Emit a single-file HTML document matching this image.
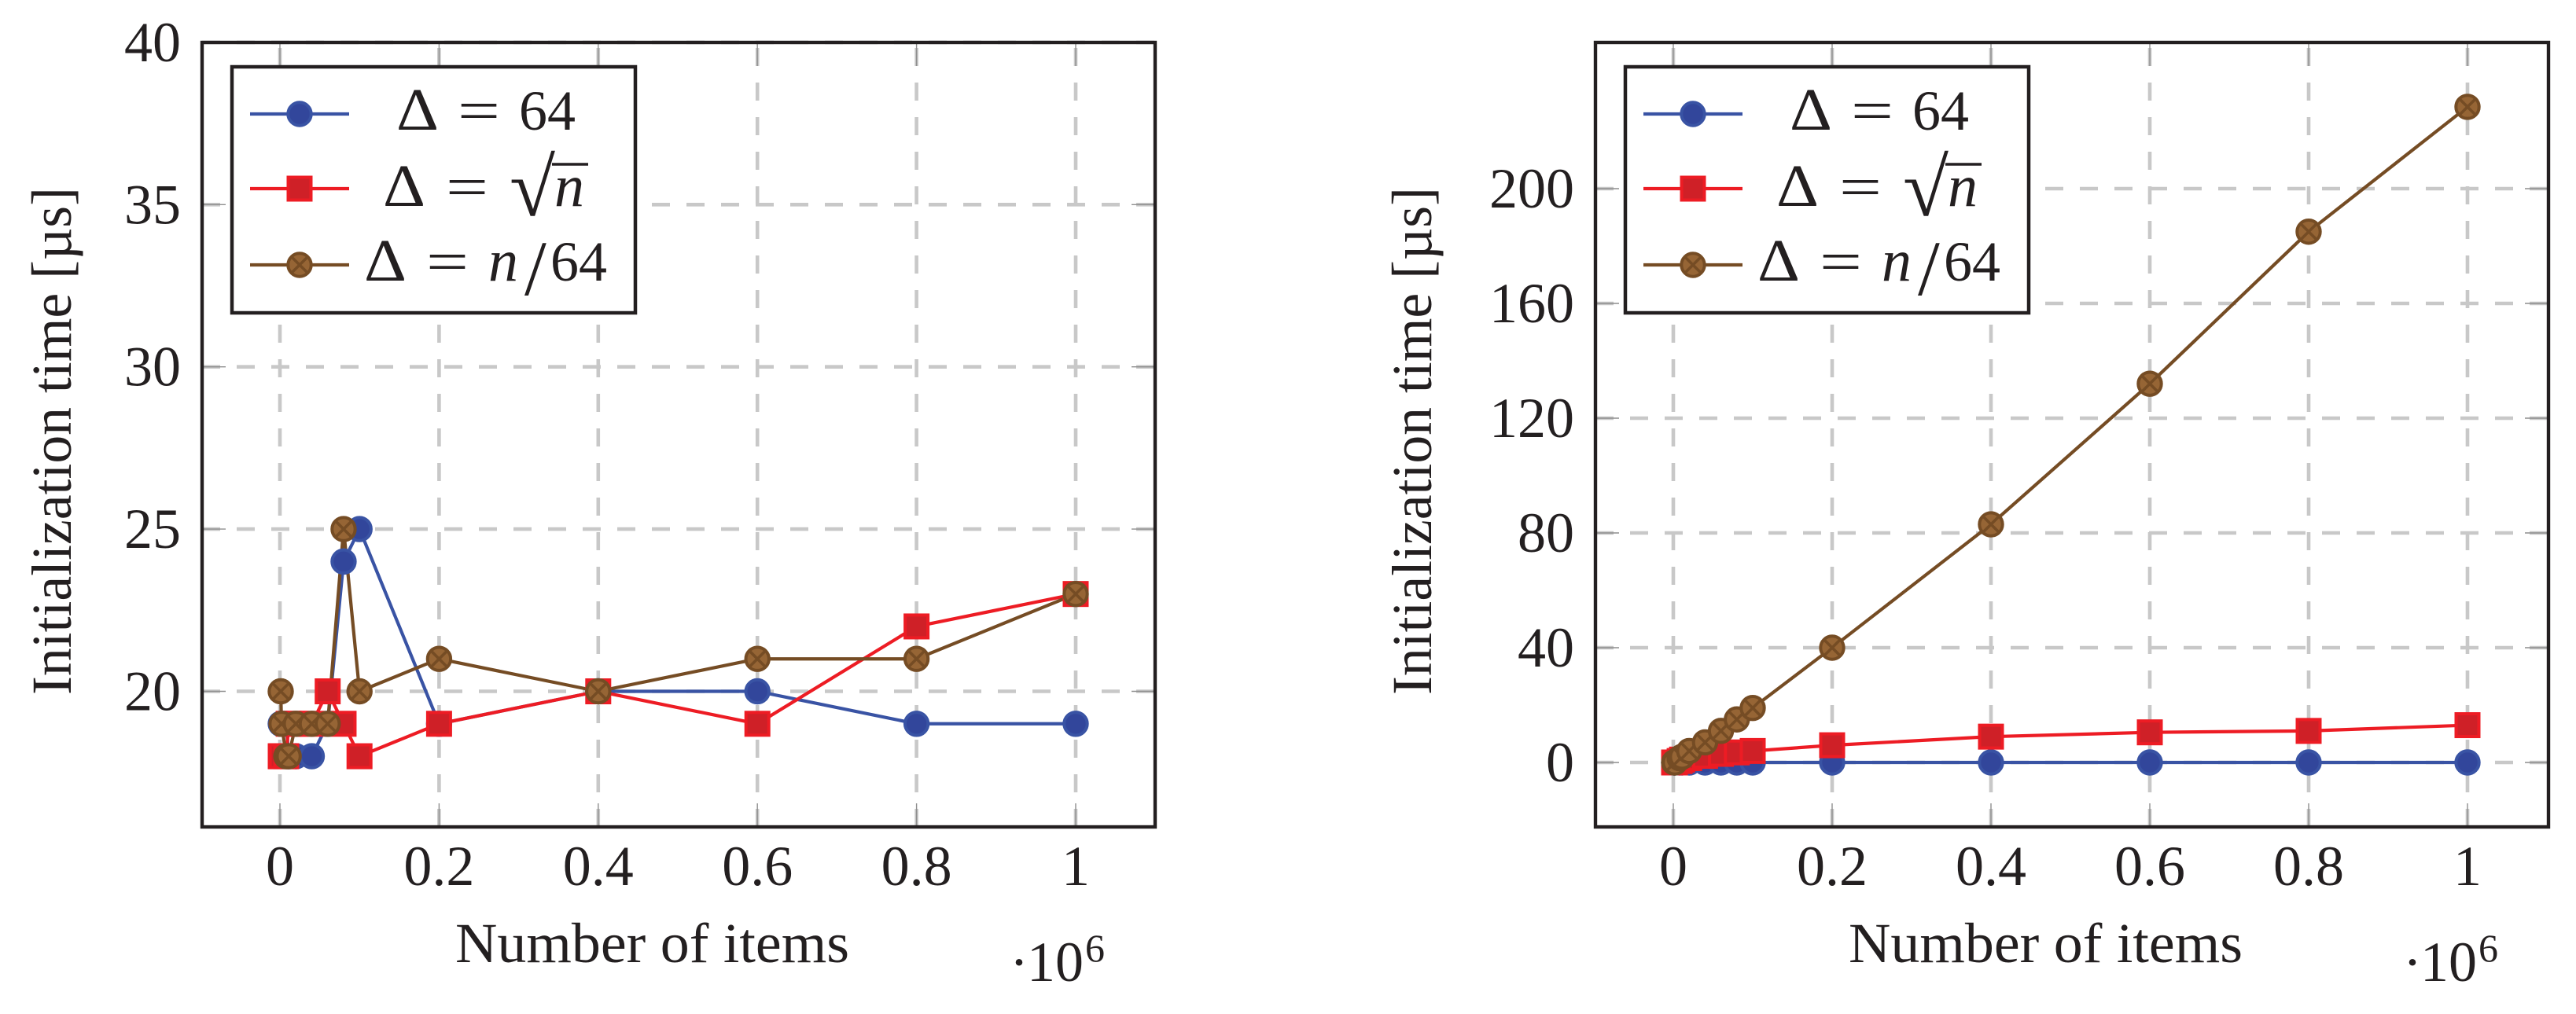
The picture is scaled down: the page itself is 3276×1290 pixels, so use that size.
<!DOCTYPE html>
<html lang="en">
<head>
<meta charset="utf-8">
<title>Initialization time charts</title>
<style>
html,body{margin:0;padding:0;background:#fff;width:3276px;height:1290px;overflow:hidden}
svg{display:block}
text{font-family:"Liberation Serif",serif;fill:#231f20}
.i{font-style:italic}
</style>
</head>
<body>
<svg id="figure" xmlns="http://www.w3.org/2000/svg" width="3276" height="1290" viewBox="0 0 3276 1290">
<rect width="3276" height="1290" fill="#fff"/>
<g id="left-chart"></g>
<g id="right-chart"></g>
</svg>
<script>
// Shared data (x in units of 10^6 items)
const itemCounts = [0.001, 0.002, 0.008, 0.011, 0.02, 0.04, 0.06, 0.08, 0.1, 0.2, 0.4, 0.6, 0.8, 1];
const xTickValues = [0, 0.2, 0.4, 0.6, 0.8, 1];
const xTickLabels = ['0', '0.2', '0.4', '0.6', '0.8', '1'];

// Left chart values
const leftBlue = [19, 19, 19, 18, 18, 18, 19, 24, 25, 19, 20, 20, 19, 19];
const leftRed = [18, 18, 18, 19, 19, 19, 20, 19, 18, 19, 20, 19, 22, 23];
const leftBrown = [20, 19, 18, 18, 19, 19, 19, 25, 20, 21, 20, 21, 21, 23];
const leftYTicks = [20, 25, 30, 35, 40];

// Right chart values
const rightBlue = [0, 0, 0, 0, 0, 0, 0, 0, 0, 0, 0, 0, 0, 0];
const rightRed = [0, 0, 0.5, 1, 1.5, 2.3, 3, 3.5, 4, 6, 9, 10.5, 11, 13];
const rightBrown = [0, 0, 1.5, 2, 4, 7, 11, 15, 19, 40, 83, 132, 185, 228.5];
const rightYTicks = [0, 40, 80, 120, 160, 200];

const NS = 'http://www.w3.org/2000/svg';
const BLUE = {line: '#3953a4', fill: '#32469b'};
const RED = {line: '#ed1c24', fill: '#cf2027'};
const BROWN = {line: '#754c24', fill: '#966535'};

function mk(parent, tag, attrs, content) {
  const el = document.createElementNS(NS, tag);
  for (const k in attrs) el.setAttribute(k, attrs[k]);
  if (content !== undefined) el.textContent = content;
  parent.appendChild(el);
  return el;
}

function drawMarker(g, kind, cx, cy, col) {
  if (kind === 'square') {
    const m = mk(g, 'rect', {x: cx - 14.5, y: cy - 14.5, width: 29, height: 29, fill: col.fill, stroke: col.line, 'stroke-width': 4});
    
    
    return;
  }
  const c = mk(g, 'circle', {cx: cx, cy: cy, r: 14.7, fill: col.fill, stroke: col.line, 'stroke-width': 4});
  
  
  if (kind === 'cross') {
    const d = 10.4;
    const x = mk(g, 'path', {d: `M${cx-d} ${cy-d}L${cx+d} ${cy+d}M${cx-d} ${cy+d}L${cx+d} ${cy-d}`, fill: 'none', stroke: col.line, 'stroke-width': 3.6});
    
    
  }
}

function drawChart(root, frame, xAxis, yAxis, yTicks, series, labelX) {
  const sx = v => xAxis.a + xAxis.b * v;
  const sy = v => yAxis.a - yAxis.b * (v - yAxis.base);

  // grid
  const grid = mk(root, 'g', {});
  
  
  xTickValues.forEach(v => {
    const l = mk(grid, 'line', {x1: sx(v), x2: sx(v), y1: frame.b, y2: frame.t, stroke: '#c8c8c8', 'stroke-width': 4.6, 'stroke-dasharray': '23 21'});
    
    
  });
  yTicks.forEach(v => {
    const l = mk(grid, 'line', {x1: frame.l, x2: frame.r, y1: sy(v), y2: sy(v), stroke: '#c8c8c8', 'stroke-width': 4.6, 'stroke-dasharray': '23 21'});
    
    
  });

  // tick marks
  const ticks = mk(root, 'g', {stroke: '#8e8e8e', 'stroke-width': 1.4});
  
  
  xTickValues.forEach(v => {
    mk(ticks, 'line', {x1: sx(v), x2: sx(v), y1: frame.b, y2: frame.b - 30});
    mk(ticks, 'line', {x1: sx(v), x2: sx(v), y1: frame.t, y2: frame.t + 30});
  });
  yTicks.forEach(v => {
    mk(ticks, 'line', {x1: frame.l, x2: frame.l + 30, y1: sy(v), y2: sy(v)});
    mk(ticks, 'line', {x1: frame.r, x2: frame.r - 30, y1: sy(v), y2: sy(v)});
  });

  // series lines
  series.forEach(s => {
    const pts = itemCounts.map((x, i) => sx(x) + ',' + sy(s.values[i])).join(' ');
    const p = mk(root, 'polyline', {points: pts, fill: 'none', stroke: s.col.line, 'stroke-width': 4.2, 'stroke-linejoin': 'round'});
    
    
  });
  // series markers
  series.forEach(s => {
    const g = mk(root, 'g', {});
    
    
    itemCounts.forEach((x, i) => drawMarker(g, s.kind, sx(x), sy(s.values[i]), s.col));
  });

  // frame
  const f = mk(root, 'rect', {x: frame.l, y: frame.t, width: frame.r - frame.l, height: frame.b - frame.t, fill: 'none', stroke: '#231f20', 'stroke-width': 4.4});
  
  

  // tick labels
  xTickValues.forEach((v, i) => {
    const t = mk(root, 'text', {x: sx(v), y: 1126, 'font-size': 72, 'text-anchor': 'middle'}, xTickLabels[i]);
    
    
  });
  yTicks.forEach(v => {
    const t = mk(root, 'text', {x: frame.l - 27, y: sy(v) + 24, 'font-size': 72, 'text-anchor': 'end'}, String(v));
    
    
  });

  // axis titles
  const xt = mk(root, 'text', {x: frame.l + 322, y: 1224, 'font-size': 72, textLength: 501, lengthAdjust: 'spacingAndGlyphs'}, 'Number of items');
  
  
  const yt = mk(root, 'text', {transform: `translate(${labelX} 884) rotate(-90)`, x: 0, y: 0, 'font-size': 72, textLength: 646, lengthAdjust: 'spacingAndGlyphs'}, 'Initialization time [µs]');
  
  

  // scale multiplier
  const dx = frame.l - 257;
  const ex = mk(root, 'g', {});
  
  
  mk(ex, 'text', {x: 1284 + dx, y: 1248, 'font-size': 72}, '·');
  mk(ex, 'text', {x: 1306 + dx, y: 1248, 'font-size': 72}, '10');
  mk(ex, 'text', {x: 1380 + dx, y: 1223, 'font-size': 50}, '6');

  // legend
  const L = mk(root, 'g', {transform: `translate(${dx} 0)`});
  
  
  const box = mk(L, 'rect', {x: 295, y: 85, width: 513, height: 313, fill: '#fff', stroke: '#231f20', 'stroke-width': 4.5});
  
  
  const rows = [145, 240, 337];
  series.forEach((s, i) => {
    const ln = mk(L, 'line', {x1: 318, x2: 444, y1: rows[i], y2: rows[i], stroke: s.col.line, 'stroke-width': 4.2});
    
    
    drawMarker(L, s.kind, 381, rows[i], s.col);
  });
  const fs = 72;
  const e1 = mk(L, 'g', {});
  
  
  mk(e1, 'text', {x: 504, y: 165, 'font-size': fs + 4, textLength: 54, lengthAdjust: 'spacingAndGlyphs'}, 'Δ');
  mk(e1, 'text', {x: 582, y: 165, 'font-size': fs, textLength: 54, lengthAdjust: 'spacingAndGlyphs'}, '=');
  mk(e1, 'text', {x: 660, y: 165, 'font-size': fs}, '64');
  const e2 = mk(L, 'g', {});
  
  
  mk(e2, 'text', {x: 487, y: 262, 'font-size': fs + 4, textLength: 54, lengthAdjust: 'spacingAndGlyphs'}, 'Δ');
  mk(e2, 'text', {x: 567, y: 262, 'font-size': fs, textLength: 54, lengthAdjust: 'spacingAndGlyphs'}, '=');
  mk(e2, 'text', {x: 648, y: 274, 'font-size': 104, textLength: 58, lengthAdjust: 'spacingAndGlyphs'}, '√');
  mk(e2, 'line', {x1: 702, x2: 748, y1: 209, y2: 209, stroke: '#231f20', 'stroke-width': 3.6});
  mk(e2, 'text', {x: 705, y: 262, 'font-size': 76, 'class': 'i'}, 'n');
  const e3 = mk(L, 'g', {});
  
  
  mk(e3, 'text', {x: 463, y: 357, 'font-size': fs + 4, textLength: 54, lengthAdjust: 'spacingAndGlyphs'}, 'Δ');
  mk(e3, 'text', {x: 542, y: 357, 'font-size': fs, textLength: 54, lengthAdjust: 'spacingAndGlyphs'}, '=');
  mk(e3, 'text', {x: 621, y: 357, 'font-size': 76, 'class': 'i'}, 'n');
  mk(e3, 'text', {x: 667, y: 375, 'font-size': 100}, '/');
  mk(e3, 'text', {x: 700, y: 357, 'font-size': fs}, '64');
}

drawChart(
  document.getElementById('left-chart'),
  {l: 257, r: 1469, t: 54, b: 1052},
  {a: 356, b: 1012},
  {a: 879.5, b: 41.28, base: 20},
  leftYTicks,
  [
    {name: 'delta-64', values: leftBlue, col: BLUE, kind: 'circle'},
    {name: 'delta-sqrt-n', values: leftRed, col: RED, kind: 'square'},
    {name: 'delta-n-over-64', values: leftBrown, col: BROWN, kind: 'cross'}
  ],
  90
);
drawChart(
  document.getElementById('right-chart'),
  {l: 2029, r: 3241, t: 54, b: 1052},
  {a: 2128, b: 1010},
  {a: 970, b: 3.65, base: 0},
  rightYTicks,
  [
    {name: 'delta-64', values: rightBlue, col: BLUE, kind: 'circle'},
    {name: 'delta-sqrt-n', values: rightRed, col: RED, kind: 'square'},
    {name: 'delta-n-over-64', values: rightBrown, col: BROWN, kind: 'cross'}
  ],
  1820
);
</script>
</body>
</html>
